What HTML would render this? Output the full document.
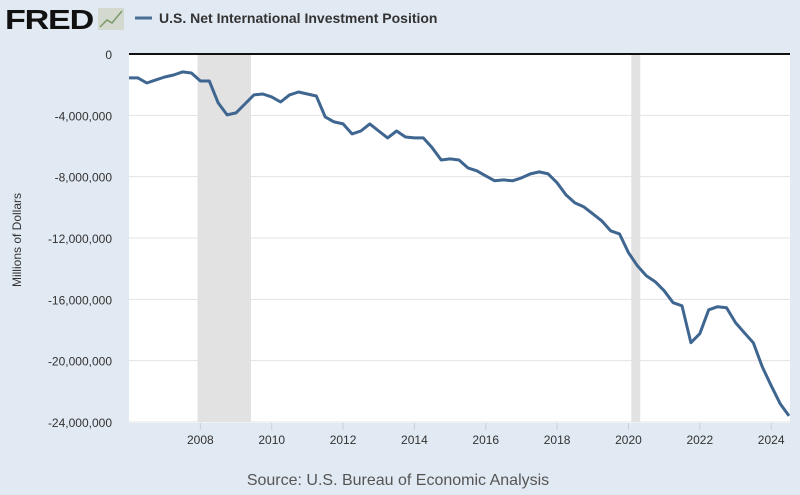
<!DOCTYPE html>
<html><head><meta charset="utf-8"><style>
body{margin:0;background:#e1e9f2;font-family:"Liberation Sans",sans-serif;}
svg{display:block}
</style></head><body>
<svg width="800" height="495">
<rect x="0" y="0" width="800" height="495" fill="#e1e9f2"/>
<text x="5" y="29" font-size="28" font-weight="bold" fill="#111" letter-spacing="-1" textLength="88" lengthAdjust="spacingAndGlyphs">FRED</text>
<rect x="98" y="8" width="26" height="22" fill="#d3d9cf"/>
<polyline points="100,27 107,20 112,23 122,11" fill="none" stroke="#7c9a6a" stroke-width="1.5"/>
<line x1="135" y1="18" x2="152" y2="18" stroke="#4a6f96" stroke-width="3"/>
<text x="159" y="23" font-size="14" font-weight="bold" fill="#333">U.S. Net International Investment Position</text>
<rect x="129" y="54" width="661" height="369" fill="#fff"/>
<g id="grid"></g>
<g id="rec"></g>
<line x1="129" y1="54" x2="790" y2="54" stroke="#111" stroke-width="2"/>
<path id="line" fill="none" stroke="#3f6690" stroke-width="3" stroke-linejoin="round"/>
<g id="ylab"></g><g id="xlab"></g>
<text transform="translate(21,240) rotate(-90)" text-anchor="middle" font-size="12" fill="#333">Millions of Dollars</text>
<text x="398" y="485" text-anchor="middle" font-size="16" fill="#555">Source: U.S. Bureau of Economic Analysis</text>
</svg>
<script>
const startYear = 2006.0;
const values = [-1.56,-1.56,-1.89,-1.69,-1.50,-1.37,-1.17,-1.24,-1.76,-1.76,
-3.19,-3.97,-3.84,-3.26,-2.67,-2.61,-2.80,-3.13,-2.67,-2.48,
-2.61,-2.74,-4.10,-4.43,-4.56,-5.21,-5.02,-4.56,-5.02,-5.47,
-5.02,-5.41,-5.47,-5.47,-6.12,-6.91,-6.84,-6.91,-7.43,-7.62,
-7.95,-8.27,-8.21,-8.27,-8.08,-7.82,-7.69,-7.82,-8.40,-9.19,
-9.71,-9.97,-10.42,-10.88,-11.53,-11.73,-12.96,-13.81,-14.46,-14.85,
-15.44,-16.22,-16.42,-18.83,-18.24,-16.68,-16.48,-16.55,-17.52,-18.18,
-18.83,-20.39,-21.63,-22.80,-23.60].map(v=>v*1e6);
const yTicks = [0,-4000000,-8000000,-12000000,-16000000,-20000000,-24000000];
const xTicks = [2008,2010,2012,2014,2016,2018,2020,2022,2024];
const recessions = [[2007.92,2009.42],[2020.08,2020.33]];
const NS="http://www.w3.org/2000/svg";
const x0=129,x1=789,y0=54,y1=422;
const endYear = startYear + (values.length-1)/4;
const xs = t => x0+(t-startYear)/(endYear-startYear)*(x1-x0);
const ys = v => y0+(0-v)/24000000*(y1-y0);
function mk(tag,attrs,parent){const e=document.createElementNS(NS,tag);for(const k in attrs)e.setAttribute(k,attrs[k]);document.getElementById(parent).appendChild(e);return e;}
yTicks.forEach(v=>{
  if(v!==0){const g=mk('line',{x1:129,x2:790,y1:ys(v),y2:ys(v),stroke:'#e3e3e3','stroke-width':1},'grid');
  
  }
  const t=mk('text',{x:112,y:ys(v)+5,'text-anchor':'end','font-size':12,fill:'#333'},'ylab');
  t.textContent=v.toLocaleString('en-US');
  
  
});
recessions.forEach(r=>{
  const e=mk('rect',{x:xs(r[0]),y:55,width:Math.max(4,xs(r[1])-xs(r[0])),height:367,fill:'#e2e2e2'},'rec');
  
  
});
xTicks.forEach(yr=>{
  const l=mk('line',{x1:xs(yr),x2:xs(yr),y1:423,y2:430,stroke:'#c8d0da'},'xlab');
  
  
  const t=mk('text',{x:xs(yr),y:444,'text-anchor':'middle','font-size':12,fill:'#333'},'xlab');
  t.textContent=yr;
  
  
});
document.getElementById('line').setAttribute('d',values.map((v,i)=>(i?'L':'M')+xs(startYear+i/4).toFixed(1)+','+ys(v).toFixed(1)).join(''));
</script>
</body></html>
